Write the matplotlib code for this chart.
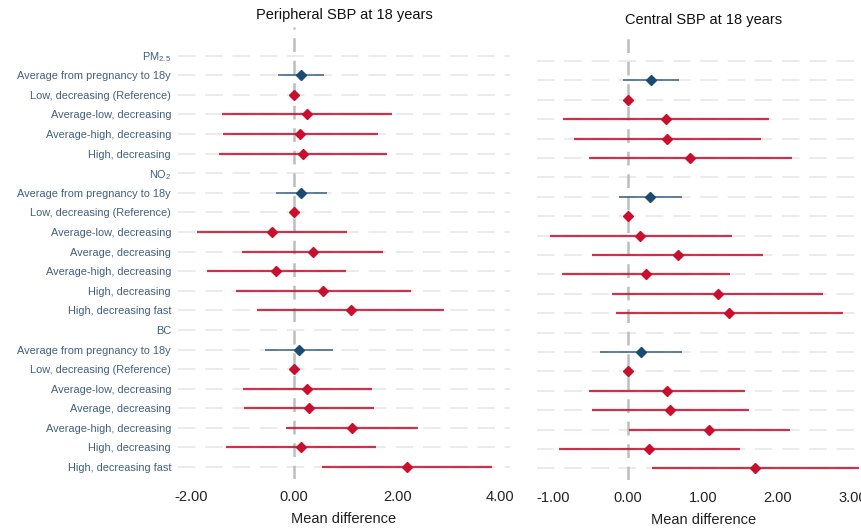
import matplotlib
matplotlib.use("Agg")
import matplotlib.pyplot as plt
import numpy as np

plt.rcParams['font.family'] = ['Liberation Sans', 'DejaVu Sans']
plt.rcParams['mathtext.fontset'] = 'custom'
plt.rcParams['mathtext.rm'] = 'Liberation Sans'
plt.rcParams['mathtext.it'] = 'Liberation Sans'

labels = [
    r'PM$_{\mathrm{2.5}}$',
    'Average from pregnancy to 18y',
    'Low, decreasing (Reference)',
    'Average-low, decreasing',
    'Average-high, decreasing',
    'High, decreasing',
    r'NO$_{\mathrm{2}}$',
    'Average from pregnancy to 18y',
    'Low, decreasing (Reference)',
    'Average-low, decreasing',
    'Average, decreasing',
    'Average-high, decreasing',
    'High, decreasing',
    'High, decreasing fast',
    'BC',
    'Average from pregnancy to 18y',
    'Low, decreasing (Reference)',
    'Average-low, decreasing',
    'Average, decreasing',
    'Average-high, decreasing',
    'High, decreasing',
    'High, decreasing fast',
]
# row type: 'h' header, 'a' average (blue), 't' trajectory (red)
row_type = ['h', 'a', 't', 't', 't', 't',
            'h', 'a', 't', 't', 't', 't', 't', 't',
            'h', 'a', 't', 't', 't', 't', 't', 't']

nan = np.nan
# Peripheral SBP
per_est = [nan, 0.13, 0.00, 0.25, 0.12, 0.17,
           nan, 0.14, 0.00, -0.42, 0.36, -0.34, 0.57, 1.10,
           nan, 0.09, 0.00, 0.25, 0.30, 1.12, 0.13, 2.20]
per_lo = [nan, -0.31, 0.00, -1.40, -1.38, -1.45,
          nan, -0.35, 0.00, -1.88, -1.01, -1.69, -1.12, -0.71,
          nan, -0.56, 0.00, -0.99, -0.97, -0.15, -1.31, 0.54]
per_hi = [nan, 0.58, 0.00, 1.90, 1.62, 1.80,
          nan, 0.64, 0.00, 1.03, 1.73, 1.01, 2.26, 2.91,
          nan, 0.76, 0.00, 1.51, 1.56, 2.41, 1.59, 3.84]
# Central SBP
cen_est = [nan, 0.31, 0.00, 0.51, 0.53, 0.83,
           nan, 0.30, 0.00, 0.17, 0.67, 0.24, 1.20, 1.35,
           nan, 0.18, 0.00, 0.52, 0.57, 1.09, 0.28, 1.70]
cen_lo = [nan, -0.06, 0.00, -0.86, -0.72, -0.52,
          nan, -0.11, 0.00, -1.04, -0.48, -0.88, -0.21, -0.16,
          nan, -0.37, 0.00, -0.52, -0.48, 0.02, -0.92, 0.32]
cen_hi = [nan, 0.68, 0.00, 1.89, 1.78, 2.19,
          nan, 0.72, 0.00, 1.39, 1.81, 1.37, 2.61, 2.87,
          nan, 0.73, 0.00, 1.56, 1.62, 2.16, 1.50, 3.09]

per_ticks = [-2, 0, 2, 4]
cen_ticks = [-1, 0, 1, 2, 3]

W, H = 861, 531
fig = plt.figure(figsize=(W / 100, H / 100), dpi=100)

RED = '#C8102E'
BLUE = '#1B4A72'
LABEL_C = '#42607E'

def add_ax(x0, x1, y0, y1):
    return fig.add_axes([x0 / W, 1 - y1 / H, (x1 - x0) / W, (y1 - y0) / H])

def draw(ax, est, lo, hi, xlim, ylim, ticks, title, title_y):
    n = len(labels)
    y = np.arange(n)
    ax.set_xlim(*xlim)
    ax.set_ylim(*ylim)
    for yi in y:
        ax.axhline(yi, color='#EBEBEB', lw=1.4, dashes=(9, 5), zorder=0)
    ax.axvline(0, color='#BDBDBD', lw=1.8, dashes=(5.5, 3.5), zorder=1)
    for i in range(n):
        t = row_type[i]
        if t == 'h':
            continue
        c = BLUE if t == 'a' else RED
        lw = 1.3 if t == 'a' else 1.6
        a = 0.75 if t == 'a' else 0.85
        ax.plot([lo[i], hi[i]], [i, i], color=c, lw=lw, alpha=a,
                solid_capstyle='butt', zorder=2)
        ax.plot(est[i], i, marker='D', ms=5.5, color=c, mec=c, zorder=3,
                linestyle='none')
    ax.set_xticks(ticks)
    ax.set_xticklabels([f'{v:.2f}' for v in ticks], fontsize=10.5, color='#222222')
    ax.set_xlabel('Mean difference', fontsize=10.5, color='#222222', labelpad=6)
    ax.tick_params(axis='x', length=0, pad=8)
    ax.tick_params(axis='y', length=0)
    for s in ax.spines.values():
        s.set_visible(False)
    ax.set_facecolor('none')
    fig.text((ax.get_position().x0 + ax.get_position().x1) / 2, 1 - title_y / H,
             title, ha='center', va='center', fontsize=10.5, color='#111111')

# left panel
axL = add_ax(178, 510, 27, 479)
draw(axL, per_est, per_lo, per_hi, (-2.25, 4.19), (21.61, -1.465),
     per_ticks, 'Peripheral SBP at 18 years', 15)
axL.set_yticks(np.arange(len(labels)))
axL.set_yticklabels(labels, fontsize=7.9, color=LABEL_C)
axL.tick_params(axis='y', pad=5)

# right panel
axR = add_ax(537, 871, 31, 480)
draw(axR, cen_est, cen_lo, cen_hi, (-1.21, 3.245), (21.60, -1.546),
     cen_ticks, 'Central SBP at 18 years', 20)
axR.set_yticks([])

fig.savefig('out.png', dpi=100)
